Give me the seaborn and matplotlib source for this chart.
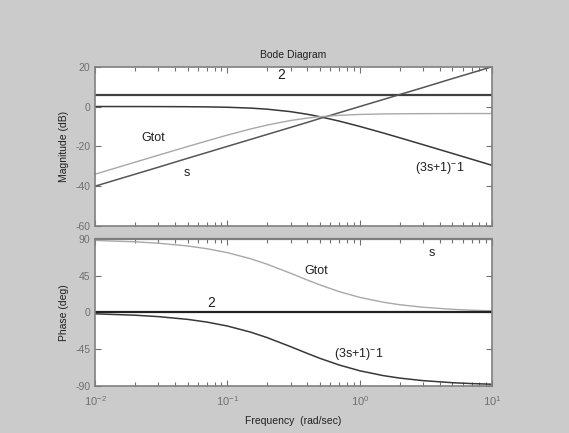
# Bode diagram of Gtot = 2 * s * (3s+1)^-1 and its factors
import numpy as np
import pandas as pd
import matplotlib
matplotlib.use('Agg')
import matplotlib.pyplot as plt
import seaborn as sns

# frequencies (rad/sec) and values
freq = [0.01, 0.02, 0.03, 0.05, 0.07, 0.1, 0.15, 0.2, 0.3, 0.4, 0.5,
        0.7, 1, 1.5, 2, 3, 5, 7, 10]

mag_gain = [6.02] * len(freq)
mag_s = [-40, -34, -30.5, -26, -23.1, -20, -16.5, -14, -10.5, -8, -6,
         -3.1, 0, 3.5, 6, 9.5, 14, 16.9, 20]
mag_pole = [0, -0.02, -0.04, -0.1, -0.19, -0.37, -0.8, -1.34, -2.58, -3.87,
            -5.12, -7.33, -10, -13.27, -15.68, -19.14, -23.54, -26.45, -29.55]
mag_gtot = [-33.98, -27.98, -24.47, -20.1, -17.27, -14.35, -11.26, -9.3,
            -7.02, -5.81, -5.12, -4.41, -3.98, -3.73, -3.64, -3.58, -3.54,
            -3.53, -3.53]

ph_gain = [0] * len(freq)
ph_s = [90] * len(freq)
ph_pole = [-1.72, -3.43, -5.14, -8.53, -11.86, -16.7, -24.23, -30.96, -41.99,
           -50.19, -56.31, -64.54, -71.57, -77.47, -80.54, -83.66, -86.19,
           -87.27, -88.09]
ph_gtot = [88.28, 86.57, 84.86, 81.47, 78.14, 73.3, 65.77, 59.04, 48.01,
           39.81, 33.69, 25.46, 18.43, 12.53, 9.46, 6.34, 3.81, 2.73, 1.91]

mag_ticks = [-60, -40, -20, 0, 20]
ph_ticks = [-90, -45, 0, 45, 90]

sns.set_theme(style='ticks')
plt.rcParams['font.family'] = ['Liberation Sans', 'DejaVu Sans']
plt.rcParams['mathtext.fontset'] = 'custom'
plt.rcParams['mathtext.rm'] = 'Liberation Sans'
plt.rcParams['mathtext.it'] = 'Liberation Sans'
plt.rcParams['axes.unicode_minus'] = False

fig = plt.figure(figsize=(5.69, 4.33), dpi=100, facecolor='#cbcbcb')
ax1 = fig.add_axes([0.167, 0.478, 0.698, 0.368])
ax2 = fig.add_axes([0.167, 0.109, 0.698, 0.339], sharex=ax1)

# magnitude
sns.lineplot(x=freq, y=mag_gain, ax=ax1, color='#404040', lw=1.6)
sns.lineplot(x=freq, y=mag_pole, ax=ax1, color='#383838', lw=1.1)
sns.lineplot(x=freq, y=mag_s, ax=ax1, color='#555555', lw=1.1)
sns.lineplot(x=freq, y=mag_gtot, ax=ax1, color='#a8a8a8', lw=1.0)

# phase
sns.lineplot(x=freq, y=ph_s, ax=ax2, color='#777777', lw=1.6, clip_on=False)
sns.lineplot(x=freq, y=ph_gtot, ax=ax2, color='#a8a8a8', lw=1.0)
sns.lineplot(x=freq, y=ph_pole, ax=ax2, color='#383838', lw=1.1)
sns.lineplot(x=freq, y=ph_gain, ax=ax2, color='#222222', lw=1.6)

for ax in (ax1, ax2):
    ax.set_xscale('log')
    ax.set_xlim(0.01, 10)
    ax.set_facecolor('white')
    for sp in ax.spines.values():
        sp.set_visible(True)
        sp.set_color('#808080')
        sp.set_linewidth(1.2)
    ax.tick_params(which='both', direction='in', top=True, right=True,
                   colors='#707070', labelcolor='#707070', labelsize=7.5)
    ax.tick_params(which='major', length=4, width=0.8)
    ax.tick_params(which='minor', length=3, width=0.8)

ax1.set_ylim(-60, 20)
ax1.set_yticks(mag_ticks)
ax1.tick_params(axis='x', which='both', labelbottom=False)
ax1.set_ylabel('Magnitude (dB)', fontsize=7.5, color='#202020', labelpad=4)
ax1.set_title('Bode Diagram', fontsize=7.5, color='#202020', pad=6)

ax2.set_ylim(-90, 90)
ax2.set_yticks(ph_ticks)
ax2.set_ylabel('Phase (deg)', fontsize=7.5, color='#202020', labelpad=4)
ax2.set_xlabel('Frequency  (rad/sec)', fontsize=7.5, color='#202020', labelpad=6)
ax2.tick_params(axis='x', labelsize=8, pad=6)

# curve labels
txt = dict(color='#202020', ha='center', va='center')
ax1.text(0.254, 15.8, '2', fontsize=10, **txt)
ax1.text(0.0275, -16, 'Gtot', fontsize=9, **txt)
ax1.text(0.049, -33.6, 's', fontsize=9, **txt)
ax1.text(4.05, -31, '(3s+1)$^{-}$1', fontsize=9, **txt)
ax2.text(3.5, 73, 's', fontsize=9, **txt)
ax2.text(0.466, 51, 'Gtot', fontsize=9, **txt)
ax2.text(0.075, 12, '2', fontsize=10, **txt)
ax2.text(0.98, -51, '(3s+1)$^{-}$1', fontsize=9, **txt)

fig.savefig('out.png', dpi=100, facecolor=fig.get_facecolor())
